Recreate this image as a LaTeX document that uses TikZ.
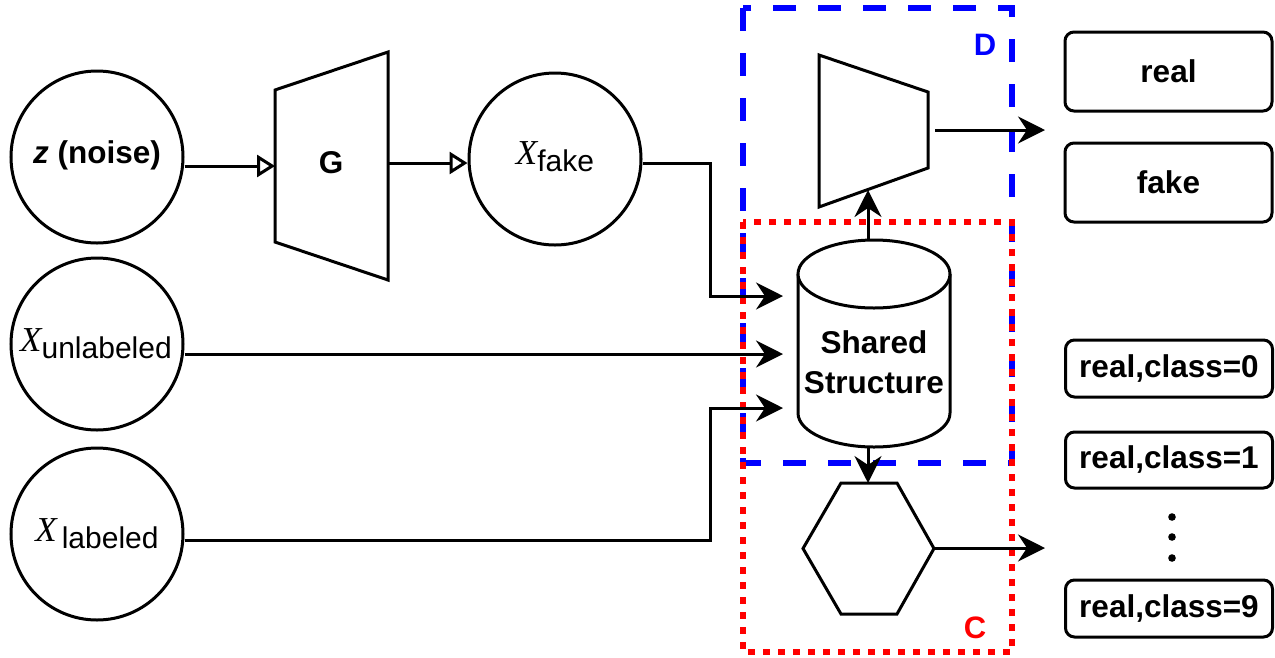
\documentclass[tikz,border=0pt]{standalone}
\usepackage{fontspec}
\setmainfont{Liberation Sans}
\newfontfamily\timesit{Liberation Serif}[UprightFont=*-Italic]
\usetikzlibrary{arrows.meta,calc}
\newcommand\myfont{\fontsize{30}{36}\selectfont}
\newcommand\bxfont{\fontsize{31.5}{38}\selectfont}
\newcommand\myX{{\timesit\fontsize{35}{40}\selectfont X}}
\begin{document}
\begin{tikzpicture}[x=1pt,y=-1pt,
  shp/.style={line width=3pt, line join=miter},
  circ/.style={circle, draw, line width=3pt, minimum size=172pt, inner sep=0pt},
  conn/.style={line width=3pt, -{Stealth[length=27pt,width=27pt,inset=9pt]}},
  openarr/.style={line width=3pt, -{Triangle[open, length=18pt, width=22pt]}},
  outbox/.style={draw, rounded corners=9pt, line width=3pt, minimum width=207pt, inner sep=0pt, font=\bfseries\bxfont},
  lbl/.style={inner sep=0pt, font=\myfont}
]
\useasboundingbox (0,0) rectangle (1275,657);

% D and C boundaries
\draw[blue, line width=6pt, dash pattern=on 23pt off 22pt] (743,8) rectangle (1012,463);
\draw[red, line width=6pt, dash pattern=on 7pt off 8pt] (743,222) rectangle (1012,652);
\node[text=blue, font=\bfseries\fontsize{31}{34}\selectfont, inner sep=0pt] (Dlbl) at (985,45) {D};
\node[text=red, font=\bfseries\fontsize{31}{34}\selectfont, inner sep=0pt] (Clbl) at (975,628) {C};

% input circles
\node[circ] (zc) at (97,157) {};
\node[lbl, font=\bfseries\bxfont] (zt) at (97,155) {\textit{z} (noise)};
\node[circ] (xu) at (97,344) {};
\node[lbl] (xut) at (96,344) {\myX\raisebox{-7pt}{unlabeled}};
\node[circ] (xl) at (97,534) {};
\node[lbl] (xlt) at (97,534) {\myX\,\raisebox{-7pt}{labeled}};
\node[circ] (xf) at (555,159) {};
\node[lbl] (xft) at (555,157) {\myX\raisebox{-7pt}{fake}};

% generator G
\coordinate (Gl) at (275,166);
\coordinate (Gr) at (388,163);
\draw[shp] (275,90) -- (388,52) -- (388,280) -- (275,242) -- cycle;
\node[lbl, font=\bfseries\bxfont] (G) at (331,163) {G};

% discriminator head
\coordinate (Db) at (868,190);
\coordinate (Dr) at (935,130);
\draw[shp] (819,55) -- (928,92) -- (928,168) -- (819,207) -- cycle;

% shared structure cylinder
\coordinate (cylT) at (868,240);
\coordinate (cylB) at (868,447);
\draw[shp, fill=white] (798,274) -- (798,413) arc[start angle=180, end angle=0, x radius=76, y radius=34] -- (950,274);
\draw[shp, fill=white] (874,274) ellipse[x radius=76, y radius=34];
\node[lbl, font=\bfseries\fontsize{31.5}{40}\selectfont, align=center] (cyl) at (874,362) {Shared\\Structure};

% classifier hexagon
\coordinate (Ht) at (868,483);
\coordinate (Hr) at (934,548);
\draw[shp] (803,548.5) -- (841,483) -- (897,483) -- (934,548.5) -- (897,614) -- (841,614) -- cycle;

% output boxes
\node[outbox, minimum height=79pt] (real) at (1168.5,71.5) {real};
\node[outbox, minimum height=79pt] (fake) at (1168.5,182.5) {fake};
\node[outbox, minimum height=57pt] (c0) at (1169,368.5) {real,class=0};
\node[outbox, minimum height=56pt] (c1) at (1169,460) {real,class=1};
\node[outbox, minimum height=57pt] (c9) at (1169,608.5) {real,class=9};
\foreach \yy/\nm in {517/d1,537/d2,558/d3} \fill (1172,\yy) circle[radius=3.8pt] coordinate (\nm);

\coordinate (Dout) at (1045,130);
\coordinate (Cout) at (1045,548);

% connectors
\draw[openarr] ([yshift=-9pt]zc.east) -- (Gl);
\draw[openarr] (Gr) -- ([yshift=-4pt]xf.west);
\draw[conn] ([yshift=-4pt]xf.east) -- (710,163) -- (710,296) -- (783,296);
\draw[conn] ([yshift=-10pt]xu.east) -- (783,354);
\draw[conn] ([yshift=-6pt]xl.east) -- (710,540) -- (710,408) -- (783,408);
\draw[conn] (cylT) -- (Db);
\draw[conn] (cylB) -- (Ht);
\draw[conn] (Dr) -- (Dout);
\draw[conn] (Hr) -- (Cout);
\end{tikzpicture}
\end{document}
